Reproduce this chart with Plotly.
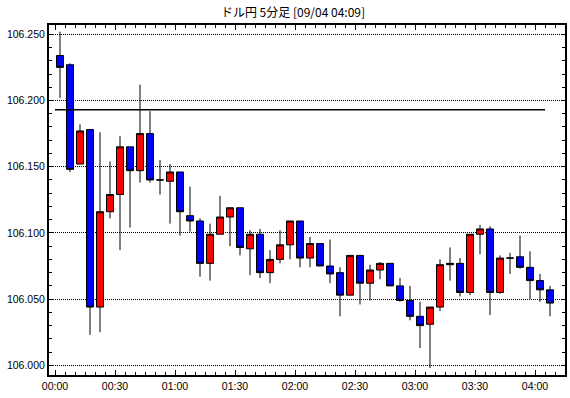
import plotly.graph_objects as go

TITLE = "ドル円 5分足 [09/04 04:09]"

OPEN = [106.234, 106.227, 106.152, 106.178, 106.044, 106.116, 106.129, 106.165, 106.147, 106.175,
        106.140, 106.139, 106.146, 106.113, 106.109, 106.077, 106.099, 106.112, 106.119, 106.088,
        106.099, 106.070, 106.080, 106.091, 106.109, 106.081, 106.092, 106.075, 106.070, 106.053,
        106.083, 106.062, 106.072, 106.077, 106.060, 106.049, 106.037, 106.031, 106.044, 106.076,
        106.077, 106.055, 106.099, 106.103, 106.055, 106.081, 106.082, 106.074, 106.064, 106.057]
HIGH = [106.252, 106.228, 106.182, 106.178, 106.176, 106.154, 106.173, 106.165, 106.212, 106.192,
        106.155, 106.152, 106.146, 106.135, 106.111, 106.107, 106.128, 106.119, 106.119, 106.102,
        106.103, 106.087, 106.102, 106.109, 106.109, 106.097, 106.092, 106.095, 106.074, 106.083,
        106.083, 106.076, 106.078, 106.077, 106.066, 106.060, 106.048, 106.044, 106.080, 106.089,
        106.081, 106.099, 106.106, 106.105, 106.083, 106.085, 106.098, 106.086, 106.069, 106.060]
LOW = [106.202, 106.146, 106.152, 106.023, 106.025, 106.111, 106.087, 106.104, 106.138, 106.138,
       106.129, 106.107, 106.098, 106.101, 106.067, 106.064, 106.099, 106.090, 106.083, 106.068,
       106.066, 106.062, 106.077, 106.080, 106.074, 106.074, 106.075, 106.062, 106.037, 106.053,
       106.046, 106.049, 106.065, 106.060, 106.048, 106.034, 106.013, 105.998, 106.041, 106.064,
       106.052, 106.053, 106.084, 106.038, 106.054, 106.069, 106.073, 106.050, 106.048, 106.037]
CLOSE = [106.225, 106.148, 106.177, 106.044, 106.116, 106.129, 106.165, 106.147, 106.175, 106.140,
         106.140, 106.146, 106.116, 106.109, 106.077, 106.099, 106.112, 106.119, 106.089, 106.099,
         106.070, 106.080, 106.091, 106.109, 106.081, 106.092, 106.075, 106.069, 106.053, 106.083,
         106.062, 106.072, 106.077, 106.060, 106.049, 106.037, 106.030, 106.044, 106.076, 106.077,
         106.055, 106.099, 106.103, 106.055, 106.081, 106.081, 106.074, 106.064, 106.057, 106.047]

TICK_LABELS = ["00:00", "00:30", "01:00", "01:30", "02:00", "02:30", "03:00", "03:30", "04:00"]
BAR_MINUTES = 5

REF_LEVEL = 106.193
REF_SPAN = [-0.5, 48.5]

CANDLE_X = list(range(len(OPEN)))
# ticks mark the start of each bar's slot (half a slot left of the bar centre)
tick_pos = [(int(t[:2]) * 60 + int(t[3:])) / BAR_MINUTES - 0.5 for t in TICK_LABELS]

FONT = "Liberation Sans, Arial, sans-serif"

fig = go.Figure()
fig.add_trace(go.Candlestick(
    x=CANDLE_X, open=OPEN, high=HIGH, low=LOW, close=CLOSE,
    increasing=dict(fillcolor="#FF0000", line=dict(color="black", width=1)),
    decreasing=dict(fillcolor="#0000FF", line=dict(color="black", width=1)),
    whiskerwidth=0, showlegend=False, hoverinfo="skip",
))
fig.add_trace(go.Scatter(
    x=REF_SPAN, y=[REF_LEVEL, REF_LEVEL], mode="lines",
    line=dict(color="black", width=1.5),
    showlegend=False, hoverinfo="skip",
))

fig.update_layout(
    width=570, height=398,
    margin=dict(l=49, r=5, t=25, b=23),
    paper_bgcolor="white", plot_bgcolor="white",
    boxgap=0.3, boxgroupgap=0,
    title=dict(text=TITLE, x=293 / 570, xref="container", xanchor="center",
               y=1 - 13 / 398, yref="container", yanchor="middle",
               font=dict(family="Noto Sans CJK JP", size=12, color="black")),
    xaxis=dict(
        range=[-1.1, 50.5], tickmode="array", tickvals=tick_pos, ticktext=TICK_LABELS,
        ticks="inside", ticklen=5, tickwidth=1, tickcolor="black",
        showline=True, linecolor="black", linewidth=2, mirror="ticks",
        showgrid=False, zeroline=False, automargin=False,
        minor=dict(ticks="inside", ticklen=3, tickwidth=1, tickcolor="black",
                   tickmode="linear", tick0=-0.5, dtick=1),
        tickfont=dict(family=FONT, size=10.5, color="black"),
        rangeslider=dict(visible=False),
    ),
    yaxis=dict(
        range=[105.9927, 106.2570], tickmode="linear", tick0=106.0, dtick=0.05, tickformat=".3f",
        ticks="inside", ticklen=4, tickwidth=1, tickcolor="black",
        showline=True, linecolor="black", linewidth=2, mirror="allticks",
        showgrid=True, gridcolor="black", gridwidth=1, griddash="1px,1px",
        zeroline=False, automargin=False,
        minor=dict(ticks="inside", ticklen=3, tickwidth=1, tickcolor="black", tick0=106.0, dtick=0.01),
        tickfont=dict(family=FONT, size=10.5, color="black"),
    ),
)

fig.write_html("out.html", config={"displayModeBar": False},
               post_script="document.body.style.margin='0px';document.body.style.padding='0px';")
